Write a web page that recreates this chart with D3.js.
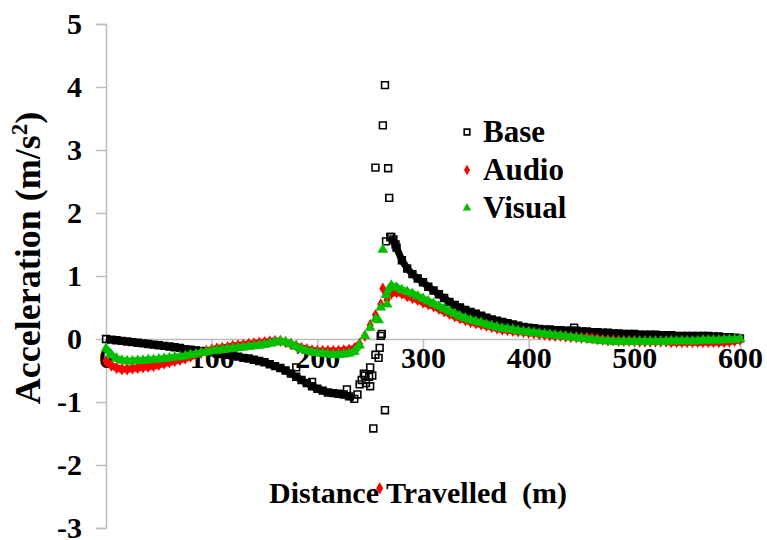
<!DOCTYPE html>
<html>
<head>
<meta charset="utf-8">
<script src="https://cdn.jsdelivr.net/npm/d3@7"></script>
<style>
  body { margin: 0; background: #fff; }
  svg { display: block; }
</style>
</head>
<body>
<div class="visContainer"></div>
<script>
// Chart data.
const distance = [0, 5, 10, 15, 20, 25, 30, 35, 40, 45, 50, 55, 60, 65, 70, 75, 80, 85, 90, 95,
  100, 105, 110, 115, 120, 125, 130, 135, 140, 145, 150, 155, 160, 165, 170, 175, 180, 185, 190, 195,
  200, 205, 210, 215, 220, 225, 230, 235, 240, 245, 250, 255, 260, 265, 270, 275, 280, 285, 290, 295,
  300, 305, 310, 315, 320, 325, 330, 335, 340, 345, 350, 355, 360, 365, 370, 375, 380, 385, 390, 395,
  400, 405, 410, 415, 420, 425, 430, 435, 440, 445, 450, 455, 460, 465, 470, 475, 480, 485, 490, 495,
  500, 505, 510, 515, 520, 525, 530, 535, 540, 545, 550, 555, 560, 565, 570, 575, 580, 585, 590, 595, 600];

const base = [0.00, -0.01, -0.02, -0.03, -0.04, -0.05, -0.06, -0.07, -0.08, -0.09, -0.10, -0.11, -0.12, -0.13, -0.14, -0.16, -0.17, -0.18, -0.19, -0.20,
  -0.21, -0.23, -0.24, -0.25, -0.26, -0.28, -0.30, -0.31, -0.33, -0.35, -0.37, -0.40, -0.43, -0.46, -0.50, -0.55, -0.60, -0.65, -0.70, -0.75,
  -0.79, -0.82, -0.85, -0.86, -0.87, -0.88, -0.91, -0.95, -0.72, -0.58, -0.45, -0.25, 0.05, 1.55, 1.62, 1.45, 1.25, 1.12, 1.03, 0.96,
  0.90, 0.83, 0.77, 0.71, 0.65, 0.59, 0.54, 0.50, 0.46, 0.43, 0.40, 0.37, 0.34, 0.31, 0.29, 0.27, 0.25, 0.23, 0.21, 0.19,
  0.18, 0.17, 0.16, 0.15, 0.15, 0.14, 0.14, 0.13, 0.13, 0.13, 0.12, 0.12, 0.11, 0.11, 0.10, 0.10, 0.09, 0.09, 0.08, 0.08,
  0.08, 0.07, 0.07, 0.07, 0.07, 0.06, 0.06, 0.06, 0.05, 0.05, 0.05, 0.05, 0.05, 0.05, 0.05, 0.04, 0.04, 0.03, 0.03, 0.02, 0.01];

const audio = [-0.35, -0.42, -0.46, -0.48, -0.48, -0.47, -0.46, -0.45, -0.44, -0.43, -0.41, -0.39, -0.37, -0.35, -0.33, -0.31, -0.28, -0.25, -0.22, -0.19,
  -0.17, -0.15, -0.14, -0.13, -0.11, -0.10, -0.09, -0.08, -0.07, -0.06, -0.05, -0.04, -0.03, -0.03, -0.05, -0.08, -0.11, -0.14, -0.16, -0.18,
  -0.19, -0.19, -0.19, -0.19, -0.19, -0.18, -0.17, -0.15, -0.08, 0.05, 0.22, 0.38, 0.55, 0.70, 0.72, 0.74, 0.72, 0.68, 0.65, 0.62,
  0.58, 0.55, 0.52, 0.48, 0.44, 0.40, 0.36, 0.33, 0.30, 0.27, 0.25, 0.23, 0.21, 0.19, 0.17, 0.15, 0.14, 0.13, 0.12, 0.11,
  0.10, 0.09, 0.08, 0.07, 0.06, 0.05, 0.05, 0.04, 0.03, 0.03, 0.02, 0.02, 0.01, 0.00, -0.01, -0.02, -0.02, -0.03, -0.03, -0.03,
  -0.03, -0.04, -0.04, -0.04, -0.04, -0.04, -0.04, -0.05, -0.05, -0.05, -0.05, -0.05, -0.05, -0.05, -0.05, -0.05, -0.05, -0.05, -0.04, -0.03, -0.01];

const visual = [-0.15, -0.25, -0.31, -0.34, -0.35, -0.35, -0.34, -0.34, -0.33, -0.33, -0.32, -0.31, -0.30, -0.29, -0.28, -0.27, -0.25, -0.24, -0.22, -0.21,
  -0.19, -0.18, -0.17, -0.16, -0.15, -0.14, -0.13, -0.12, -0.11, -0.10, -0.09, -0.07, -0.05, -0.04, -0.05, -0.08, -0.12, -0.16, -0.19, -0.21,
  -0.22, -0.23, -0.24, -0.25, -0.25, -0.24, -0.23, -0.20, -0.10, 0.05, 0.18, 0.32, 0.50, 0.70, 0.85, 0.82, 0.78, 0.75, 0.72, 0.68,
  0.64, 0.60, 0.56, 0.52, 0.48, 0.44, 0.40, 0.36, 0.33, 0.30, 0.28, 0.26, 0.23, 0.21, 0.19, 0.17, 0.16, 0.15, 0.13, 0.12,
  0.11, 0.10, 0.09, 0.08, 0.07, 0.06, 0.05, 0.04, 0.03, 0.02, 0.01, 0.00, -0.01, -0.02, -0.03, -0.03, -0.04, -0.04, -0.04, -0.04,
  -0.04, -0.04, -0.04, -0.04, -0.04, -0.04, -0.04, -0.03, -0.03, -0.03, -0.03, -0.03, -0.03, -0.02, -0.02, -0.02, -0.02, -0.01, -0.01, -0.01, 0.00];

// Scattered points around the peak.
const baseExtraDist = [180, 195, 228, 238, 242, 244, 246, 249, 250, 252, 253, 255, 258, 259, 261, 262, 264, 264, 267, 268, 269, 272, 274, 443];
const baseExtra = [-0.45, -0.68, -0.80, -0.88, -0.65, -0.55, -0.70, -0.60, -0.75, -0.58, -1.42, 2.72, -0.30, -0.14, 0.08, 3.39, 4.03, -1.13, 2.71, 2.24, 1.62, 1.58, 1.50, 0.18];
const audioExtraDist = [259, 262, 266];
const audioExtra = [-2.37, 0.80, 0.62];
const visualExtraDist = [262, 258, 266];
const visualExtra = [1.42, 0.30, 0.55];

const xTicks = [0, 100, 200, 300, 400, 500, 600];
const yTicks = [-3, -2, -1, 0, 1, 2, 3, 4, 5];
const seriesNames = ['Base', 'Audio', 'Visual'];

// SVG constants.
const width = 767;
const height = 540;
const font = 'Liberation Serif';

const x = d3.scaleLinear().domain([0, 600]).range([106, 740]);
const y = d3.scaleLinear().domain([-3, 5]).range([528, 24]);

const svg = d3.select('.visContainer')
              .append('svg')
              .attr('width', width)
              .attr('height', height);

svg.append('rect').attr('width', width).attr('height', height).attr('fill', '#fff');

// Axes.
const axisColor = '#bdbdbd';
const yAxis = d3.axisLeft(y).tickValues(yTicks).tickSize(10).tickFormat((d) => String(d));
const yG = svg.append('g').attr('transform', 'translate(' + x(0) + ',0)').call(yAxis);
const xAxis = d3.axisBottom(x).tickValues(xTicks).tickSize(10).tickFormat((d) => String(d));
const xG = svg.append('g').attr('transform', 'translate(0,' + y(0) + ')').call(xAxis);

[xG, yG].forEach((g) => {
  g.attr('font-family', font).attr('font-size', 30).attr('font-weight', 'bold');
  g.select('.domain').attr('stroke', axisColor).attr('stroke-width', 1.5);
  g.selectAll('.tick line').attr('stroke', axisColor).attr('stroke-width', 1.5);
  g.selectAll('.tick text').attr('fill', '#000');
});
yG.selectAll('.tick text').attr('x', -24).attr('dy', '0.33em');
xG.selectAll('.tick text').attr('y', 29).attr('dy', 0);

// Series: a thick band under dense markers.
const symSquare = d3.symbol().type(d3.symbolSquare).size(46);
const symDiamond = d3.symbol().type(d3.symbolDiamond).size(44);
const symTriangle = d3.symbol().type(d3.symbolTriangle).size(50);

function drawBand(xs, ys, color, w, gapFrom, gapTo) {
  const line = d3.line()
                 .defined((d) => d[0] < gapFrom || d[0] > gapTo)
                 .x((d) => x(d[0]))
                 .y((d) => y(d[1]));
  svg.append('path')
     .attr('d', line(xs.map((d, i) => [d, ys[i]])))
     .attr('fill', 'none')
     .attr('stroke', color)
     .attr('stroke-width', w)
     .attr('stroke-linejoin', 'round');
}

function drawSeries(xs, ys, sym, fill, stroke, sw) {
  svg.append('g')
     .selectAll('path')
     .data(xs.map((d, i) => [d, ys[i]]))
     .enter()
     .append('path')
     .attr('d', sym)
     .attr('transform', (d) => 'translate(' + x(d[0]) + ',' + y(d[1]) + ')')
     .attr('fill', fill)
     .attr('stroke', stroke)
     .attr('stroke-width', sw);
}

const red = '#ff0000';
const green = '#00c000';

drawBand(distance, base, '#000', 7, 238, 268);
drawSeries(distance, base, symSquare, 'none', '#000', 1.6);
drawSeries(baseExtraDist, baseExtra, symSquare, 'none', '#000', 1.6);
drawBand(distance, audio, red, 7, 243, 262);
drawSeries(distance, audio, symDiamond, red, 'none', 0);
drawSeries(audioExtraDist, audioExtra, symDiamond, red, 'none', 0);
drawBand(distance, visual, green, 7, 243, 262);
drawSeries(distance, visual, symTriangle, green, 'none', 0);
drawSeries(visualExtraDist, visualExtra, symTriangle, green, 'none', 0);

// Legend.
const legendSyms = [symSquare, symDiamond, symTriangle];
const legendFill = ['none', red, green];
const legendStroke = ['#000', 'none', 'none'];
const legend = svg.append('g').attr('id', 'legend');
legend.selectAll('path')
      .data(seriesNames)
      .enter()
      .append('path')
      .attr('d', (d, i) => d3.symbol().type(legendSyms[i].type()).size(32)())
      .attr('transform', (d, i) => 'translate(467,' + (132 + i * 38) + ')')
      .attr('fill', (d, i) => legendFill[i])
      .attr('stroke', (d, i) => legendStroke[i])
      .attr('stroke-width', 1.6);
legend.selectAll('text')
      .data(seriesNames)
      .enter()
      .append('text')
      .attr('x', 483)
      .attr('y', (d, i) => 131 + i * 38)
      .attr('dy', '0.35em')
      .attr('font-family', font)
      .attr('font-weight', 'bold')
      .attr('font-size', 31)
      .text((d) => d);

// Axis titles.
const yTitle = svg.append('text')
   .attr('transform', 'translate(40,258) rotate(-90)')
   .attr('text-anchor', 'middle')
   .attr('font-family', font)
   .attr('font-weight', 'bold')
   .attr('font-size', 36);
yTitle.append('tspan').text('Acceleration (m/s');
yTitle.append('tspan').attr('dy', -13).attr('font-size', 23).text('2');
yTitle.append('tspan').attr('dy', 13).text(')');

svg.append('text')
   .attr('x', 418)
   .attr('y', 503)
   .attr('text-anchor', 'middle')
   .attr('font-family', font)
   .attr('font-weight', 'bold')
   .attr('font-size', 30)
   .style('white-space', 'pre')
   .text('Distance Travelled  (m)');
</script>
</body>
</html>
